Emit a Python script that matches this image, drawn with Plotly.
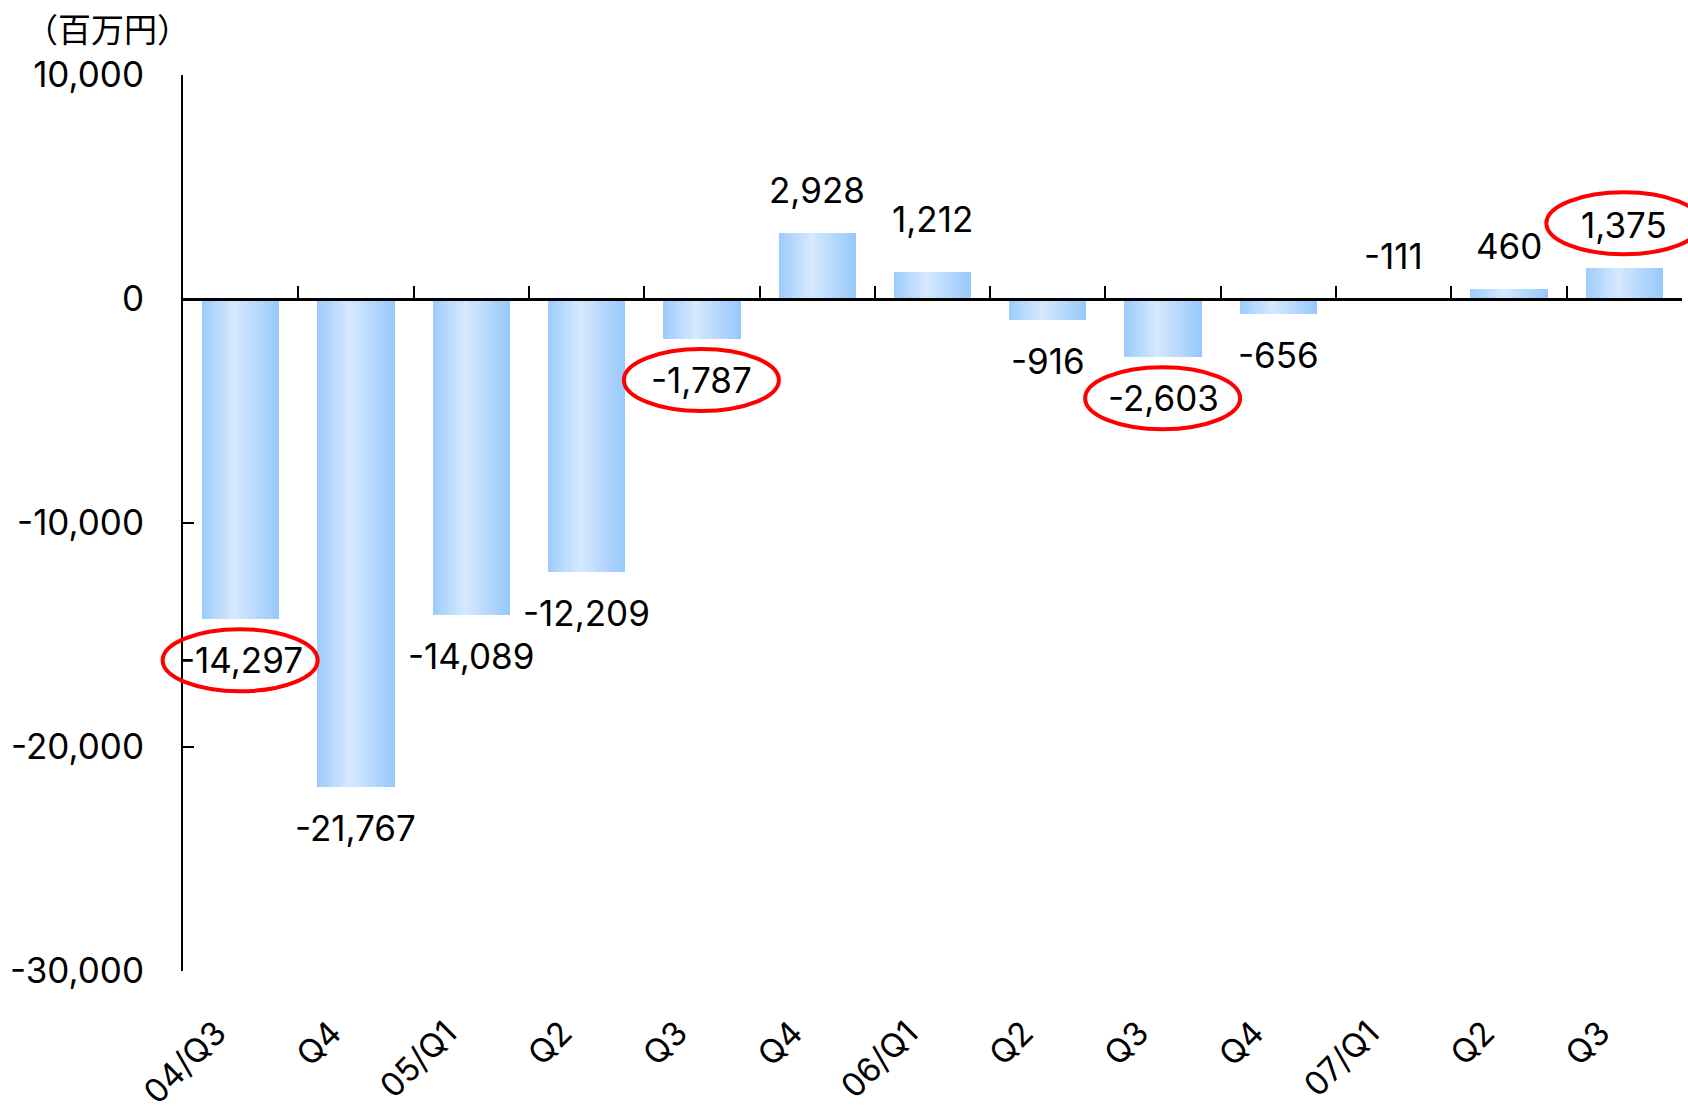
import plotly.graph_objects as go

# ---------------- data ----------------
categories = ["04/Q3", "Q4", "05/Q1", "Q2", "Q3", "Q4", "06/Q1",
              "Q2", "Q3", "Q4", "07/Q1", "Q2", "Q3"]
values = [-14297, -21767, -14089, -12209, -1787, 2928, 1212,
          -916, -2603, -656, -111, 460, 1375]
highlighted = [0, 4, 8, 12]          # labels circled in red
y_tick_vals = [10000, 0, -10000, -20000, -30000]
y_tick_text = ["10,000", "0", "-10,000", "-20,000", "-30,000"]
unit_label = "（百万円）"

# ---------------- style ----------------
YMIN, YMAX = -30000, 10000
FONT = "Inter, 'Noto Sans CJK JP', sans-serif"
NUM_SIZE = 35
BAR_W = 0.67
N_STRIPES = 30
LABEL_AXIS_SHIFT = 0.21   # category tick labels sit slightly left of bar centres
grad_stops = [(0.0, (156, 203, 253)), (0.42, (214, 233, 254)), (1.0, (150, 200, 252))]


def grad_color(t):
    for (t0, c0), (t1, c1) in zip(grad_stops[:-1], grad_stops[1:]):
        if t0 <= t <= t1:
            f = (t - t0) / (t1 - t0)
            c = [round(a + (b - a) * f) for a, b in zip(c0, c1)]
            return f"rgb({c[0]},{c[1]},{c[2]})"
    return "rgb(150,200,252)"


xs = list(range(len(categories)))
n = len(categories)

fig = go.Figure()

stripe_w = BAR_W / N_STRIPES
for k in range(N_STRIPES):
    t = (k + 0.5) / N_STRIPES
    w = stripe_w * (1.25 if k < N_STRIPES - 1 else 1.0)
    fig.add_trace(go.Bar(
        x=xs, y=values, width=[w] * n, offset=-BAR_W / 2 + k * stripe_w,
        marker=dict(color=grad_color(t), line=dict(width=0)),
        hoverinfo="skip", showlegend=False,
    ))

# invisible traces carrying the zero-line axis (x2) and the label axis (x3)
for ax in ("x2", "x3"):
    fig.add_trace(go.Scatter(x=xs, y=[0] * n, xaxis=ax, yaxis="y", mode="markers",
                             marker=dict(opacity=0), hoverinfo="skip", showlegend=False))

# value labels
annotations = []
label_nudge = {6: 10}
for i, v in enumerate(values):
    above = v >= 0 or abs(v) < 200
    anchor = v if v >= 0 else (0 if above else v)
    shift = (43 if above else -41) + label_nudge.get(i, 0)
    annotations.append(dict(
        x=xs[i], y=anchor, xref="x", yref="y", text=f"{v:,}",
        showarrow=False, yshift=shift, xanchor="center", yanchor="middle",
        font=dict(family=FONT, size=NUM_SIZE, color="black"),
    ))

# unit label
annotations.append(dict(
    x=0, y=1, xref="paper", yref="paper", text=unit_label, showarrow=False,
    xanchor="left", yanchor="middle", xshift=-160, yshift=47,
    font=dict(family="'Noto Sans CJK JP', sans-serif", size=33, color="black"),
))

# red ellipses around highlighted labels
shapes = []
for i in highlighted:
    v = values[i]
    above = v >= 0
    shift = 45 if above else -41
    shapes.append(dict(
        type="circle", xref="paper", yref="y",
        xsizemode="pixel", ysizemode="pixel",
        xanchor=(xs[i] + 0.5) / n, yanchor=v,
        x0=-78, x1=77, y0=shift - 31, y1=shift + 31,
        line=dict(color="#FF0000", width=4), layer="above",
    ))

fig.update_layout(
    width=1688, height=1113,
    margin=dict(l=183, r=6, t=75, b=142, autoexpand=False),
    paper_bgcolor="white", plot_bgcolor="white",
    barmode="overlay", bargap=0,
    annotations=annotations, shapes=shapes,
    font=dict(family=FONT, size=32, color="black"),
    xaxis=dict(
        range=[-0.5, n - 0.5], showticklabels=False, showline=False, ticks="",
        showgrid=False, zeroline=False, automargin=False,
    ),
    xaxis2=dict(
        overlaying="x", anchor="free", position=(0 - YMIN) / (YMAX - YMIN),
        range=[-0.5, n - 0.5], tickmode="array",
        tickvals=[i - 0.5 for i in range(n + 1)], automargin=False,
        showticklabels=False, ticks="inside", ticklen=12, tickwidth=2, tickcolor="black",
        showline=True, linecolor="black", linewidth=2.5, showgrid=False, zeroline=False,
    ),
    xaxis3=dict(
        overlaying="x", anchor="y", side="bottom", automargin=False,
        range=[-0.5 + LABEL_AXIS_SHIFT, n - 0.5 + LABEL_AXIS_SHIFT],
        tickmode="array", tickvals=xs, ticktext=categories,
        tickangle=-45, showline=False, ticks="", showgrid=False, zeroline=False,
        ticklabelstandoff=35, tickfont=dict(family=FONT, size=33, color="black"),
    ),
    yaxis=dict(
        range=[YMIN, YMAX], tickmode="array", tickvals=y_tick_vals, ticktext=y_tick_text,
        showline=True, linecolor="black", linewidth=2, ticks="inside", ticklen=11,
        tickwidth=2, tickcolor="black", showgrid=False, zeroline=False, automargin=False,
        ticklabelstandoff=30, tickfont=dict(family=FONT, size=NUM_SIZE, color="black"),
    ),
)

fig.write_html("out.html", config={"displayModeBar": False},
               post_script="document.body.style.margin='0';")
